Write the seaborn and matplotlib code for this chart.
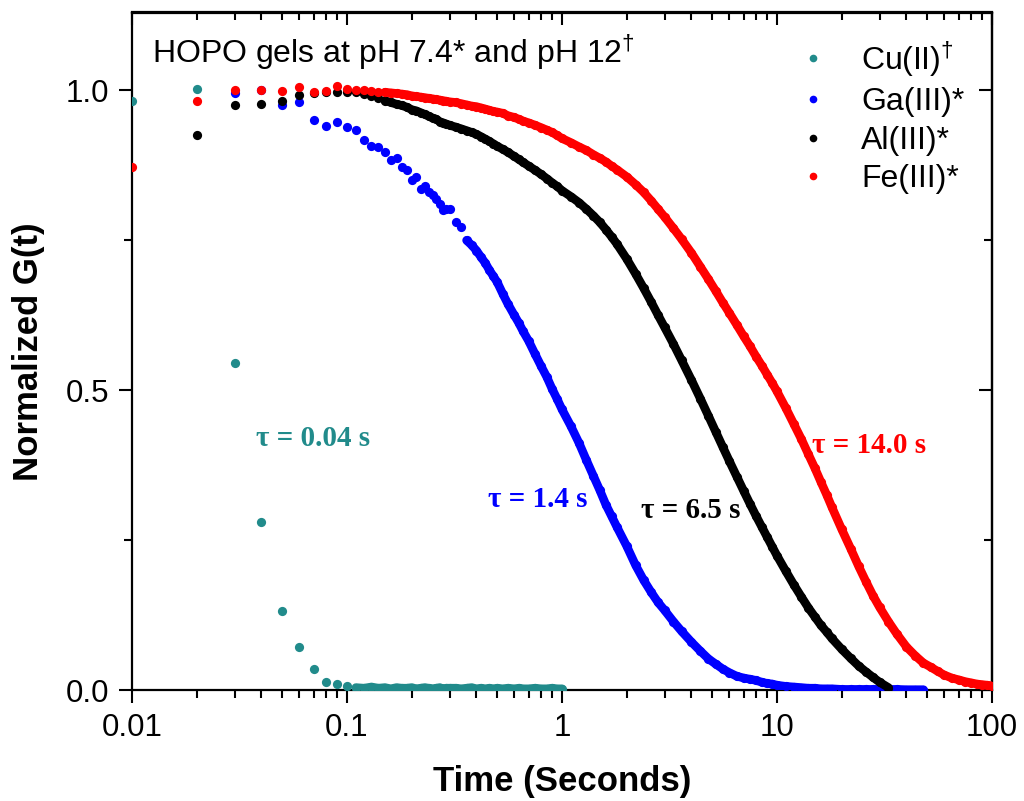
import matplotlib
matplotlib.use("Agg")
import matplotlib.pyplot as plt
from matplotlib.lines import Line2D
from matplotlib.ticker import FixedLocator, FixedFormatter, LogLocator, NullFormatter
import pandas as pd
import seaborn as sns

nan = float("nan")

# sample times (s), shared by the four gels
time_s = [
    0.01, 0.02, 0.03, 0.04, 0.05, 0.06, 0.07, 0.08, 0.09,
    0.10, 0.11, 0.12, 0.13, 0.14, 0.15, 0.16, 0.17, 0.18, 0.19,
    0.20, 0.21, 0.22, 0.23, 0.24, 0.25, 0.26, 0.27, 0.28, 0.29, 0.30,
    0.32, 0.34, 0.36, 0.38, 0.40, 0.42, 0.44, 0.46, 0.48, 0.50,
    0.53, 0.56, 0.60, 0.63, 0.66, 0.70, 0.75, 0.80, 0.85, 0.90, 0.95, 1.0,
    1.1, 1.2, 1.3, 1.4, 1.5, 1.6, 1.7, 1.8, 2.0, 2.2,
    2.4, 2.6, 2.8, 3.0, 3.3, 3.6, 4.0, 4.4, 4.8, 5.2,
    5.6, 6.0, 6.5, 7.0, 7.5, 8.0, 8.5, 9.0, 9.5, 10,
    11, 12, 13, 14, 15, 16, 17, 18, 20, 22,
    24, 26, 28, 30, 33, 36, 40, 44, 48, 52,
    56, 60, 65, 70, 75, 80, 85, 90, 95, 100,
]

# normalized G(t)
cu_ii = [
    0.983, 1.002, 0.545, 0.280, 0.131, 0.072, 0.035, 0.013, 0.010,
    0.006, 0.004, 0.003, 0.005, 0.003, 0.004, 0.002, 0.004, 0.003, 0.003,
    0.004, 0.002, 0.003, 0.004, 0.003, 0.002, 0.003, 0.004, 0.002, 0.003, 0.003,
    0.003, 0.002, 0.003, 0.004, 0.002, 0.003, 0.002, 0.003, 0.002, 0.003,
    0.002, 0.003, 0.002, 0.003, 0.002, 0.002, 0.003, 0.002, 0.002, 0.003, 0.002, 0.002,
]
ga_iii = [
    nan, nan, 0.995, 1.000, 0.975, 0.980, 0.950, 0.940, 0.947,
    0.939, 0.934, 0.917, 0.907, 0.906, 0.898, 0.884, 0.888, 0.873, 0.867,
    0.851, 0.856, 0.835, 0.840, 0.831, 0.825, 0.819, 0.810, 0.800, 0.802, 0.803,
    0.780, 0.772, 0.750, 0.742, 0.733, 0.722, 0.712, 0.700, 0.690, 0.680,
    0.661, 0.644, 0.625, 0.612, 0.598, 0.582, 0.560, 0.540, 0.522, 0.502, 0.485, 0.468,
    0.440, 0.412, 0.383, 0.357, 0.333, 0.309, 0.290, 0.272, 0.240, 0.208,
    0.183, 0.163, 0.146, 0.133, 0.114, 0.098, 0.080, 0.065, 0.052, 0.043,
    0.035, 0.029, 0.023, 0.020, 0.018, 0.016, 0.013, 0.011, 0.010, 0.008,
    0.006, 0.005, 0.004, 0.003, 0.003, 0.002, 0.002, 0.002, 0.001, 0.001,
    0.001, 0.001, 0.001, 0.001, 0.001, 0.001, 0.0005, 0.0005, 0.0005,
]
al_iii = [
    nan, 0.925, 0.975, 0.977, 0.983, 0.993, 0.995, 0.997, 0.998,
    0.998, 0.997, 0.994, 0.990, 0.988, 0.983, 0.980, 0.977, 0.975, 0.972,
    0.968, 0.966, 0.963, 0.960, 0.957, 0.954, 0.952, 0.948, 0.946, 0.944, 0.942,
    0.939, 0.936, 0.933, 0.930, 0.927, 0.923, 0.919, 0.915, 0.911, 0.907,
    0.902, 0.897, 0.890, 0.885, 0.880, 0.874, 0.867, 0.860, 0.853, 0.846, 0.840, 0.833,
    0.823, 0.813, 0.802, 0.791, 0.780, 0.768, 0.756, 0.744, 0.719, 0.694,
    0.670, 0.647, 0.625, 0.605, 0.577, 0.550, 0.517, 0.486, 0.457, 0.430,
    0.405, 0.382, 0.356, 0.332, 0.310, 0.290, 0.272, 0.255, 0.239, 0.224,
    0.198, 0.175, 0.155, 0.137, 0.122, 0.108, 0.097, 0.086, 0.068, 0.053,
    0.040, 0.030, 0.021, 0.013, 0.004,
]
fe_iii = [
    0.872, 0.983, 1.000, 1.000, 0.999, 1.005, 0.998, 0.999, 1.008,
    1.003, 1.001, 1.000, 0.999, 0.998, 0.997, 0.996, 0.995, 0.994, 0.993,
    0.991, 0.990, 0.989, 0.988, 0.987, 0.986, 0.985, 0.984, 0.983, 0.982, 0.981,
    0.980, 0.978, 0.976, 0.974, 0.973, 0.971, 0.969, 0.967, 0.965, 0.964,
    0.962, 0.958, 0.955, 0.952, 0.949, 0.946, 0.942, 0.938, 0.934, 0.930, 0.925, 0.920,
    0.913, 0.906, 0.900, 0.893, 0.887, 0.881, 0.874, 0.868, 0.856, 0.843,
    0.830, 0.816, 0.802, 0.789, 0.770, 0.752, 0.729, 0.706, 0.685, 0.665,
    0.646, 0.629, 0.609, 0.590, 0.573, 0.556, 0.541, 0.526, 0.512, 0.498,
    0.470, 0.443, 0.418, 0.393, 0.370, 0.347, 0.326, 0.305, 0.268, 0.236,
    0.206, 0.180, 0.157, 0.138, 0.114, 0.094, 0.072, 0.057, 0.045, 0.038,
    0.031, 0.025, 0.020, 0.017, 0.014, 0.012, 0.010, 0.009, 0.008, 0.007,
]

metals = ["Cu(II)", "Ga(III)", "Al(III)", "Fe(III)"]
legend_labels = ["Cu(II)$^{\\dagger}$", "Ga(III)*", "Al(III)*", "Fe(III)*"]
colors = ["#218b8b", "#0000ff", "#000000", "#ff0000"]
tau_labels = ["τ = 0.04 s", "τ = 1.4 s", "τ = 6.5 s", "τ = 14.0 s"]
x_ticks = [0.01, 0.1, 1, 10, 100]
x_ticklabels = ["0.01", "0.1", "1", "10", "100"]
y_ticks = [0.0, 0.5, 1.0]
y_ticklabels = ["0.0", "0.5", "1.0"]

frames = []
for metal, vals in zip(metals, [cu_ii, ga_iii, al_iii, fe_iii]):
    d = pd.DataFrame({"time": time_s[:len(vals)], "g": vals})
    d["metal"] = metal
    frames.append(d.dropna())
df = pd.concat(frames, ignore_index=True)

sns.set_theme(style="ticks", rc={"axes.edgecolor": "black", "xtick.color": "black",
                                 "ytick.color": "black", "text.color": "black",
                                 "axes.labelcolor": "black"})
plt.rcParams["font.family"] = ["Liberation Sans", "DejaVu Sans"]
plt.rcParams["mathtext.fontset"] = "custom"
plt.rcParams["mathtext.rm"] = "Liberation Sans"
plt.rcParams["mathtext.bf"] = "Liberation Sans:bold"

fig = plt.figure(figsize=(10.24, 8.01), dpi=100)
ax = fig.add_axes([132 / 1024, 111 / 801, 860 / 1024, 677.5 / 801])

# where the points get dense enough to read as a solid band
band_from = {"Cu(II)": 0.11, "Ga(III)": 0.36, "Al(III)": 0.15, "Fe(III)": 0.15}
for k, (metal, color) in enumerate(zip(metals, colors)):
    d = df[df["metal"] == metal]
    dense = d[d["time"] >= band_from[metal]]
    sns.lineplot(data=dense, x="time", y="g", color=color, linewidth=6.2,
                 estimator=None, ax=ax, zorder=2 + 2 * k, solid_capstyle="round")
    sns.scatterplot(data=d, x="time", y="g", color=color, s=44, linewidth=0,
                    ax=ax, zorder=3 + 2 * k)

ax.set_xscale("log")
ax.set_xlim(0.01, 100)
ax.set_ylim(0, 1.13)
ax.xaxis.set_major_locator(FixedLocator(x_ticks))
ax.xaxis.set_major_formatter(FixedFormatter(x_ticklabels))
ax.xaxis.set_minor_locator(LogLocator(base=10, subs=range(2, 10)))
ax.xaxis.set_minor_formatter(NullFormatter())
ax.yaxis.set_major_locator(FixedLocator(y_ticks))
ax.yaxis.set_major_formatter(FixedFormatter(y_ticklabels))
ax.yaxis.set_minor_locator(FixedLocator([0.25, 0.75]))

for sp in ax.spines.values():
    sp.set_linewidth(1.6)
ax.tick_params(which="major", direction="out", length=9.5, width=1.5, labelsize=22.5, pad=7)
ax.tick_params(which="minor", direction="out", length=5.5, width=1.5)

top = ax.secondary_xaxis("top")
top.xaxis.set_major_locator(FixedLocator(x_ticks))
top.xaxis.set_minor_locator(LogLocator(base=10, subs=range(2, 10)))
top.tick_params(which="major", direction="in", length=9.5, width=1.5, labeltop=False)
top.tick_params(which="minor", direction="in", length=5.5, width=1.5, labeltop=False)
right = ax.secondary_yaxis("right")
right.yaxis.set_major_locator(FixedLocator(y_ticks))
right.yaxis.set_minor_locator(FixedLocator([0.25, 0.75]))
right.tick_params(which="major", direction="in", length=9.5, width=1.5, labelright=False)
right.tick_params(which="minor", direction="in", length=5.5, width=1.5, labelright=False)
for sec in (top, right):
    for sp in sec.spines.values():
        sp.set_linewidth(1.6)

ax.set_xlabel("Time (Seconds)", fontsize=25, fontweight="bold", labelpad=16)
ax.set_ylabel("Normalized G(t)", fontsize=25, fontweight="bold", labelpad=15)

ax.text(0.0233, 0.925, "HOPO gels at pH 7.4* and pH 12$^{\\dagger}$", transform=ax.transAxes,
        fontsize=23, ha="left", va="baseline")

tau_xy = [(0.0695, 0.42), (0.773, 0.317), (3.98, 0.30), (26.8, 0.408)]
for label, (tx, ty), color in zip(tau_labels, tau_xy, colors):
    ax.text(tx, ty, label, color=color, fontsize=21, fontweight="bold",
            family=["Liberation Serif", "DejaVu Serif"], ha="center", va="center", zorder=20)

handles = [Line2D([], [], linestyle="", marker="o", markersize=5.5, markeredgewidth=0,
                  color=c) for c in colors]
ax.legend(handles, legend_labels, loc="upper left", bbox_to_anchor=(665 / 860, 0.961),
          frameon=False, fontsize=23, borderpad=0, handlelength=1.0, handletextpad=1.0,
          labelspacing=0.27, borderaxespad=0)

fig.savefig("out.png", dpi=100)
